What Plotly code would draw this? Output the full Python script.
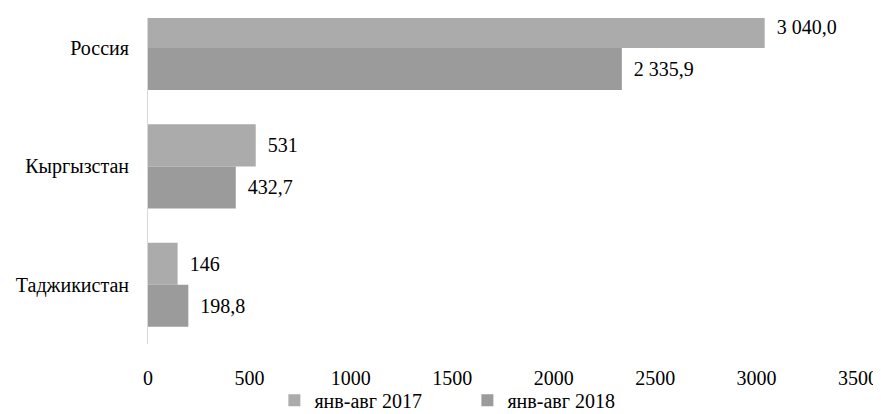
import plotly.graph_objects as go

categories = ["Россия", "Кыргызстан", "Таджикистан"]
series_names = ["янв-авг 2017", "янв-авг 2018"]
values_2017 = [3040.0, 531, 146]
values_2018 = [2335.9, 432.7, 198.8]
labels_2017 = ["3 040,0", "531", "146"]
labels_2018 = ["2 335,9", "432,7", "198,8"]
x_ticks = [0, 500, 1000, 1500, 2000, 2500, 3000, 3500]

FONT = "Liberation Serif, DejaVu Serif, serif"
PAD = "\u00a0\u2009"

fig = go.Figure()
fig.add_trace(go.Bar(
    y=categories, x=values_2017, orientation="h", name=series_names[0],
    marker=dict(color="#ABABAB", line=dict(width=0)),
    text=[PAD + t for t in labels_2017], textposition="outside",
    textfont=dict(family=FONT, size=20, color="#000000"),
    cliponaxis=True,
))
fig.add_trace(go.Bar(
    y=categories, x=values_2018, orientation="h", name=series_names[1],
    marker=dict(color="#9B9B9B", line=dict(width=0)),
    text=[PAD + t for t in labels_2018], textposition="outside",
    textfont=dict(family=FONT, size=20, color="#000000"),
    cliponaxis=True,
))

fig.update_layout(
    width=881, height=414,
    margin=dict(l=140, r=31, t=10, b=78, autoexpand=False),
    paper_bgcolor="white", plot_bgcolor="white",
    barmode="group", bargap=0.29, bargroupgap=0,
    font=dict(family=FONT, size=20, color="#000000"),
    showlegend=True,
    legend=dict(
        orientation="h", x=0.178, xanchor="left", y=-0.113, yanchor="top",
        entrywidth=148, entrywidthmode="pixels",
        font=dict(family=FONT, size=20, color="#000000"),
        bgcolor="rgba(0,0,0,0)", traceorder="normal",
    ),
    xaxis=dict(
        range=[0, 3500], tickvals=x_ticks, ticktext=[str(v) for v in x_ticks],
        showgrid=False, zeroline=False, showline=False, ticks="",
        ticklabelstandoff=20, tickfont=dict(family=FONT, size=20, color="#000000"),
        fixedrange=True,
    ),
    yaxis=dict(
        type="category", categoryorder="array", categoryarray=categories,
        range=[2.5, -0.253],
        showgrid=False, zeroline=False, showline=True, linecolor="#D9D9D9", linewidth=1,
        ticks="", ticklabelstandoff=14,
        tickfont=dict(family=FONT, size=20, color="#000000"),
        fixedrange=True,
    ),
)

fig.write_html("out.html")
